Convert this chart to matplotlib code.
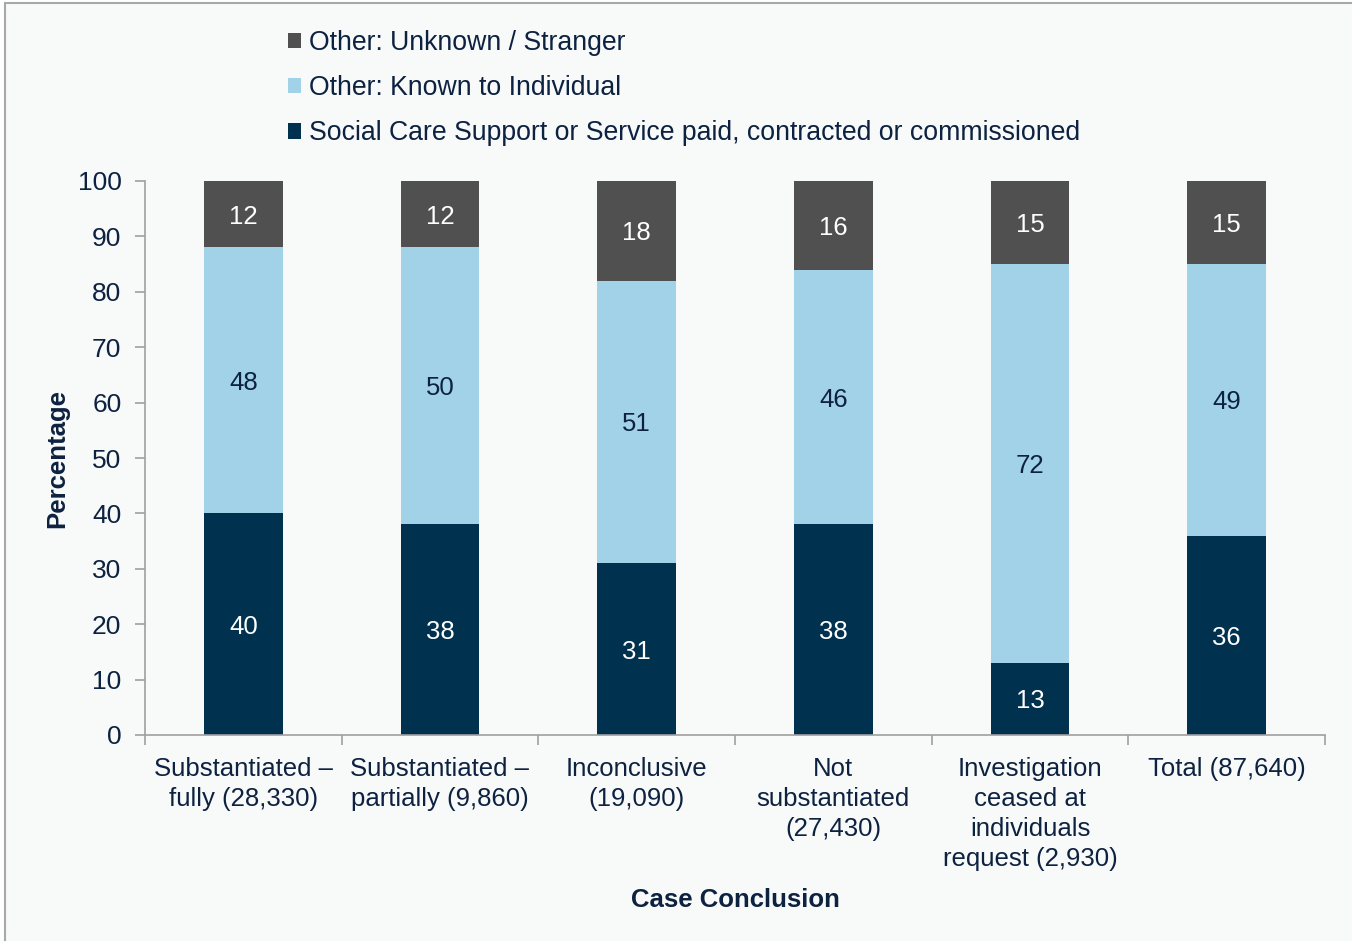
import matplotlib.pyplot as plt
import matplotlib.patches as patches
import numpy as np

plt.rcParams['font.family'] = ['Liberation Sans', 'DejaVu Sans']

categories = ['Substantiated \u2013\nfully (28,330)', 'Substantiated \u2013\npartially (9,860)',
              'Inconclusive\n(19,090)', 'Not\nsubstantiated\n(27,430)',
              'Investigation\nceased at\nindividuals\nrequest (2,930)', 'Total (87,640)']
social_care = [40, 38, 31, 38, 13, 36]
known = [48, 50, 51, 46, 72, 49]
unknown = [12, 12, 18, 16, 15, 15]

series_names = ['Social Care Support or Service paid, contracted or commissioned',
                'Other: Known to Individual',
                'Other: Unknown / Stranger']
colors = ['#00314f', '#a2d2e8', '#505050']
label_colors = ['white', '#0d2240', 'white']
txt = '#0d2240'
bg = '#f8f9f9'

fig = plt.figure(figsize=(13.52, 9.41), dpi=100, facecolor='white')
# panel background with grey border on the left/top
fig.patches.append(patches.Rectangle((5 / 1352, -0.05), 1.1, 1.05 - 2.5 / 941,
                                     transform=fig.transFigure, facecolor=bg,
                                     edgecolor='#a8a8a8', linewidth=1.5, zorder=-1))

ax = fig.add_axes([145 / 1352, 1 - 735 / 941, 1180 / 1352, 554 / 941])
ax.set_facecolor(bg)

x = np.arange(len(categories))
bottom = np.zeros(len(categories))
handles = []
for vals, name, c, lc in zip([social_care, known, unknown], series_names, colors, label_colors):
    vals = np.array(vals, dtype=float)
    b = ax.bar(x, vals, 0.4, bottom=bottom, color=c, label=name)
    handles.append(b)
    for xi, v, bt in zip(x, vals, bottom):
        ax.text(xi, bt + v / 2, f'{v:.0f}', ha='center', va='center_baseline',
                fontsize=18.5, color=lc)
    bottom += vals

ax.set_xlim(-0.5, len(categories) - 0.5)
ax.set_ylim(0, 100)
ax.set_yticks(np.arange(0, 101, 10))
ax.set_xticks(x)
ax.set_xticklabels(categories, fontsize=18.5, color=txt, linespacing=1.31)
ax.set_xticks(np.arange(-0.5, len(categories), 1), minor=True)
ax.tick_params(axis='x', which='major', length=0, pad=16)
ax.tick_params(axis='x', which='minor', length=7, color='#a0a0a0', width=1.2)
ax.tick_params(axis='y', length=7, color='#a0a0a0', width=1.2, labelsize=19, labelcolor=txt, pad=10)

for s in ['top', 'right']:
    ax.spines[s].set_visible(False)
for s in ['left', 'bottom']:
    ax.spines[s].set_color('#a0a0a0')
    ax.spines[s].set_linewidth(1.2)

ax.set_xlabel('Case Conclusion', fontsize=18.5, fontweight='bold', color=txt, labelpad=12)
ax.set_ylabel('Percentage', fontsize=18.5, fontweight='bold', color=txt, labelpad=6)

fig.legend(handles[::-1], series_names[::-1], loc='upper left',
           bbox_to_anchor=(288 / 1352, 1 - 30 / 941), frameon=False, fontsize=19.2,
           handlelength=0.5, handleheight=0.5, handletextpad=0.3, labelspacing=0.72,
           borderpad=0, borderaxespad=0, labelcolor=txt)

fig.savefig('out.png', dpi=100, facecolor=fig.get_facecolor())
